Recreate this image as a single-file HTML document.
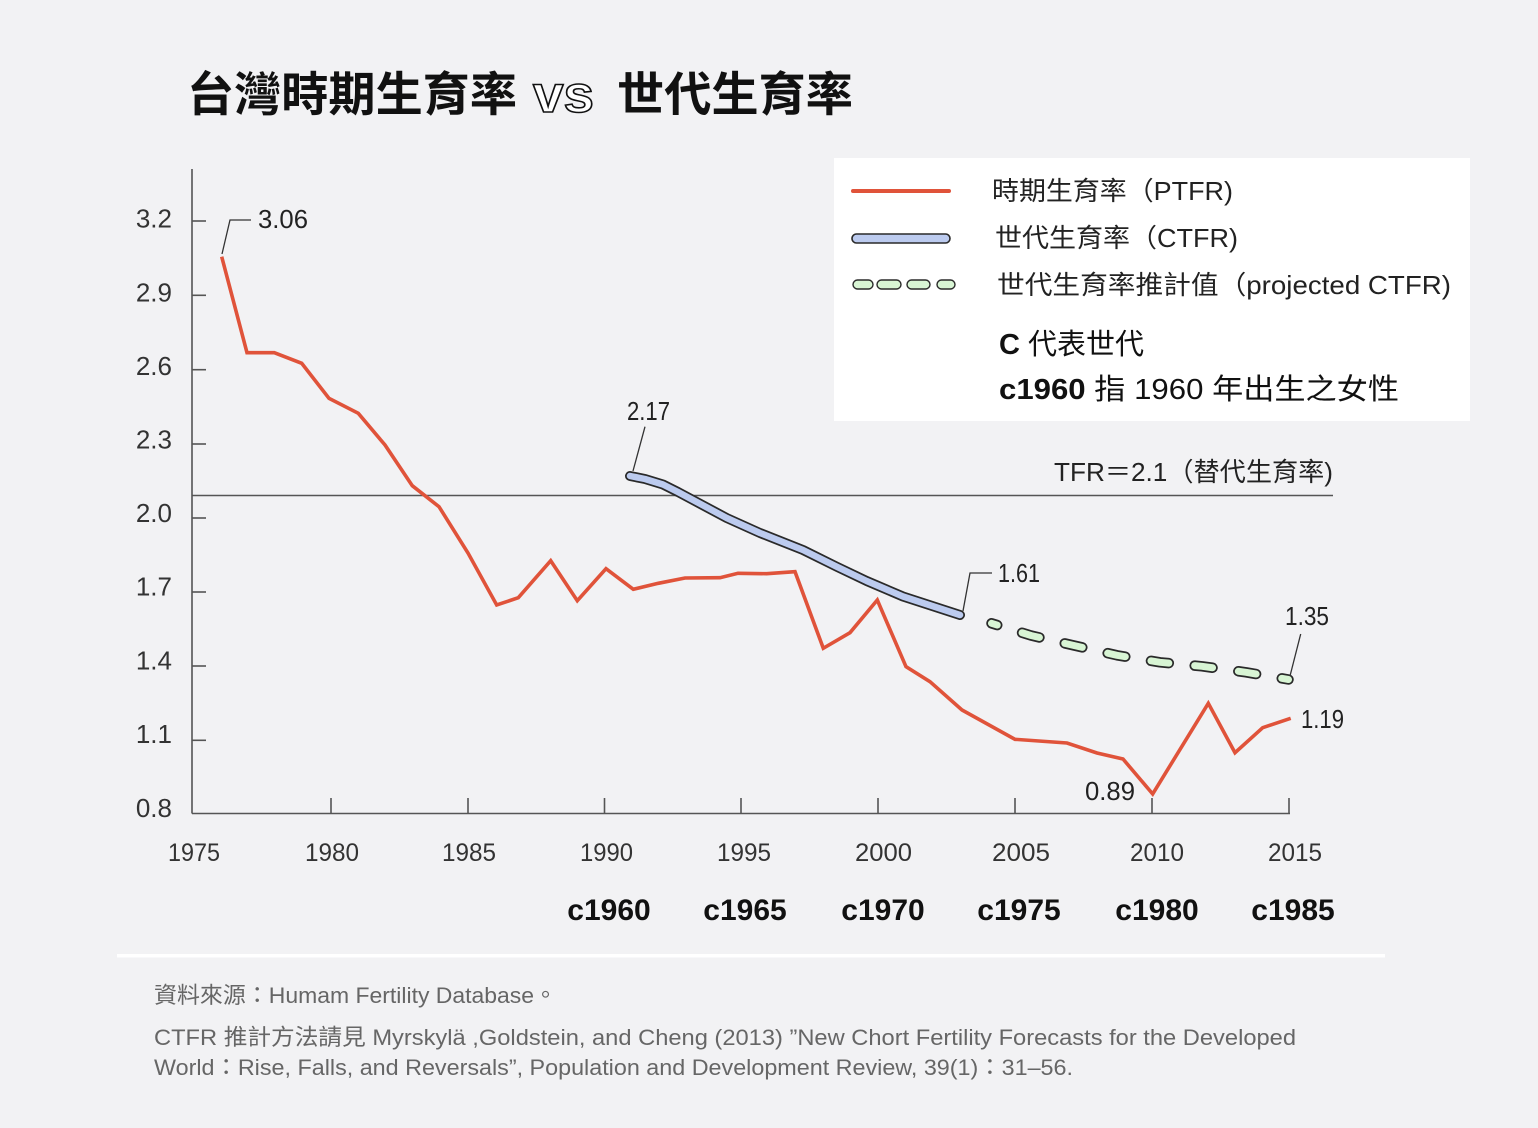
<!DOCTYPE html>
<html><head><meta charset="utf-8"><style>
html,body{margin:0;padding:0;background:#f2f2f4;}
svg{display:block;}
text{font-family:"Liberation Sans","Noto Sans CJK TC",sans-serif;}
</style></head><body>
<svg width="1538" height="1128" viewBox="0 0 1538 1128" xmlns="http://www.w3.org/2000/svg">
<rect x="0" y="0" width="1538" height="1128" fill="#f2f2f4"/>

<!-- Title -->
<text x="187" y="111" font-size="47" font-weight="700" fill="#111" textLength="330" lengthAdjust="spacingAndGlyphs" style="font-family:'Noto Sans CJK TC',sans-serif">台灣時期生育率</text>
<text x="533" y="112" font-size="52" font-weight="700" fill="#ffffff" stroke="#111" stroke-width="1.6" textLength="61" lengthAdjust="spacingAndGlyphs">vs</text>
<text x="617" y="111" font-size="47" font-weight="700" fill="#111" textLength="236" lengthAdjust="spacingAndGlyphs" style="font-family:'Noto Sans CJK TC',sans-serif">世代生育率</text>

<!-- Legend box -->
<rect x="834" y="158" width="636" height="263" fill="#ffffff"/>
<line x1="853" y1="191" x2="949" y2="191" stroke="#e0533a" stroke-width="4" stroke-linecap="round"/>
<rect x="852" y="234" width="98" height="9" rx="4.5" fill="#bccbef" stroke="#2a2a2a" stroke-width="1.6"/>
<rect x="853" y="280" width="20" height="9" rx="4.5" fill="#d8f5d4" stroke="#2a2a2a" stroke-width="1.4"/>
<rect x="877" y="280" width="24" height="9" rx="4.5" fill="#d8f5d4" stroke="#2a2a2a" stroke-width="1.4"/>
<rect x="907" y="280" width="23" height="9" rx="4.5" fill="#d8f5d4" stroke="#2a2a2a" stroke-width="1.4"/>
<rect x="937" y="280" width="18" height="9" rx="4.5" fill="#d8f5d4" stroke="#2a2a2a" stroke-width="1.4"/>
<text x="992" y="200" font-size="26" fill="#222" textLength="241" lengthAdjust="spacingAndGlyphs">時期生育率（PTFR)</text>
<text x="995" y="247" font-size="26" fill="#222" textLength="243" lengthAdjust="spacingAndGlyphs">世代生育率（CTFR)</text>
<text x="997" y="294" font-size="26" fill="#222" textLength="454" lengthAdjust="spacingAndGlyphs">世代生育率推計值（projected CTFR)</text>
<text x="999" y="354" font-size="29" fill="#111"><tspan font-weight="700">C</tspan> 代表世代</text>
<text x="999" y="399" font-size="29" fill="#111" textLength="400" lengthAdjust="spacingAndGlyphs"><tspan font-weight="700">c1960</tspan> 指 1960 年出生之女性</text>

<!-- TFR reference line -->
<line x1="192" y1="495.5" x2="1333" y2="495.5" stroke="#555" stroke-width="1.5"/>
<text x="1054" y="481" font-size="26" fill="#222" textLength="279" lengthAdjust="spacingAndGlyphs">TFR＝2.1（替代生育率)</text>

<!-- Axes -->
<g stroke="#555" stroke-width="1.6" fill="none">
<line x1="192" y1="169" x2="192" y2="813.5"/>
<line x1="192" y1="813.5" x2="1290" y2="813.5"/>
<line x1="192" y1="221" x2="206" y2="221"/>
<line x1="192" y1="295.3" x2="206" y2="295.3"/>
<line x1="192" y1="369.7" x2="206" y2="369.7"/>
<line x1="192" y1="444" x2="206" y2="444"/>
<line x1="192" y1="518" x2="206" y2="518"/>
<line x1="192" y1="592" x2="206" y2="592"/>
<line x1="192" y1="666" x2="206" y2="666"/>
<line x1="192" y1="740.3" x2="206" y2="740.3"/>
<line x1="331" y1="798" x2="331" y2="813.5"/>
<line x1="468" y1="798" x2="468" y2="813.5"/>
<line x1="604.5" y1="798" x2="604.5" y2="813.5"/>
<line x1="741" y1="798" x2="741" y2="813.5"/>
<line x1="878" y1="798" x2="878" y2="813.5"/>
<line x1="1015" y1="798" x2="1015" y2="813.5"/>
<line x1="1152" y1="798" x2="1152" y2="813.5"/>
<line x1="1289" y1="798" x2="1289" y2="813.5"/>
</g>

<!-- Y labels -->
<g font-size="26" fill="#333" text-anchor="end">
<text x="172" y="227.7">3.2</text>
<text x="172" y="301.7">2.9</text>
<text x="172" y="375">2.6</text>
<text x="172" y="448.5">2.3</text>
<text x="172" y="522">2.0</text>
<text x="172" y="595.5">1.7</text>
<text x="172" y="669.5">1.4</text>
<text x="172" y="743">1.1</text>
<text x="172" y="817">0.8</text>
</g>

<!-- X labels -->
<g font-size="25" fill="#333">
<text x="168" y="861" textLength="52" lengthAdjust="spacingAndGlyphs">1975</text>
<text x="305" y="861" textLength="54" lengthAdjust="spacingAndGlyphs">1980</text>
<text x="442" y="861" textLength="54" lengthAdjust="spacingAndGlyphs">1985</text>
<text x="580" y="861" textLength="53" lengthAdjust="spacingAndGlyphs">1990</text>
<text x="717" y="861" textLength="54" lengthAdjust="spacingAndGlyphs">1995</text>
<text x="855" y="861" textLength="57" lengthAdjust="spacingAndGlyphs">2000</text>
<text x="992" y="861" textLength="58" lengthAdjust="spacingAndGlyphs">2005</text>
<text x="1130" y="861" textLength="54" lengthAdjust="spacingAndGlyphs">2010</text>
<text x="1268" y="861" textLength="54" lengthAdjust="spacingAndGlyphs">2015</text>
</g>
<g font-size="30" font-weight="700" fill="#111" text-anchor="middle">
<text x="609" y="920">c1960</text>
<text x="745" y="920">c1965</text>
<text x="883" y="920">c1970</text>
<text x="1019" y="920">c1975</text>
<text x="1157" y="920">c1980</text>
<text x="1293" y="920">c1985</text>
</g>

<!-- PTFR red line -->
<polyline fill="none" stroke="#e0533a" stroke-width="3.6" stroke-linejoin="miter" stroke-miterlimit="3" points="221.7,256.7 247,352.7 274.3,352.7 301.7,363.3 329,398.3 358.3,413.3 385,445 412.3,485.7 439,506.7 468,553 496.7,605 518.3,597.7 550.7,560.7 577.3,600.7 606,568.7 633.3,589.3 658.3,583.3 685,578 720,577.7 738,573.3 766.7,573.7 795,571.7 823.3,648.3 850,632.7 877.3,600 906,666.7 930,681.7 962,710 1015,739.3 1067,743 1097,753 1123,759 1152.7,794 1208.3,703.3 1235,752.7 1262.7,727.7 1290.7,718.3"/>

<!-- CTFR blue line -->
<polyline fill="none" stroke="#2a2a2a" stroke-width="10" stroke-linecap="round" stroke-linejoin="round" points="630,476 645,479 663,484.5 678,492 693,500 726.7,518 760,533 803,550 836.7,566.7 866.7,581 903,596.5 960,615"/>
<polyline fill="none" stroke="#bccbef" stroke-width="6.5" stroke-linecap="round" stroke-linejoin="round" points="630,476 645,479 663,484.5 678,492 693,500 726.7,518 760,533 803,550 836.7,566.7 866.7,581 903,596.5 960,615"/>

<!-- projected CTFR green dashed -->
<polyline fill="none" stroke="#2a2a2a" stroke-width="10.5" stroke-linecap="round" stroke-linejoin="round" stroke-dasharray="18 26" stroke-dashoffset="12" points="991.5,623.3 1031,635.5 1074,645.5 1117,655.3 1160,662.3 1202,666.3 1246,672.3 1288.5,679.5"/>
<polyline fill="none" stroke="#d8f5d4" stroke-width="7" stroke-linecap="round" stroke-linejoin="round" stroke-dasharray="18 26" stroke-dashoffset="12" points="991.5,623.3 1031,635.5 1074,645.5 1117,655.3 1160,662.3 1202,666.3 1246,672.3 1288.5,679.5"/>

<!-- Leaders -->
<g stroke="#333" stroke-width="1.3" fill="none">
<polyline points="222,254 230,220 251,220"/>
<line x1="645" y1="426.7" x2="633" y2="471"/>
<polyline points="963,611 970,573 992,573"/>
<line x1="1300.7" y1="634" x2="1290" y2="676"/>
</g>

<!-- Data labels -->
<g font-size="26" fill="#222">
<text x="258" y="228" textLength="50" lengthAdjust="spacingAndGlyphs">3.06</text>
<text x="627" y="420" textLength="43" lengthAdjust="spacingAndGlyphs">2.17</text>
<text x="998" y="582" textLength="42" lengthAdjust="spacingAndGlyphs">1.61</text>
<text x="1285" y="625" textLength="44" lengthAdjust="spacingAndGlyphs">1.35</text>
<text x="1301" y="728" textLength="43" lengthAdjust="spacingAndGlyphs">1.19</text>
<text x="1085" y="800" textLength="50" lengthAdjust="spacingAndGlyphs">0.89</text>
</g>

<!-- Divider -->
<rect x="117" y="954" width="1268" height="3.5" fill="#ffffff"/>

<!-- Footer -->
<g font-size="22.5" fill="#666">
<text x="154" y="1003" textLength="403" lengthAdjust="spacingAndGlyphs">資料來源：Humam Fertility Database。</text>
<text x="154" y="1045" textLength="1142" lengthAdjust="spacingAndGlyphs">CTFR 推計方法請見 Myrskylä ,Goldstein, and Cheng (2013) ”New Chort Fertility Forecasts for the Developed</text>
<text x="154" y="1075" textLength="919" lengthAdjust="spacingAndGlyphs">World：Rise, Falls, and Reversals”, Population and Development Review, 39(1)：31–56.</text>
</g>
</svg>
</body></html>
